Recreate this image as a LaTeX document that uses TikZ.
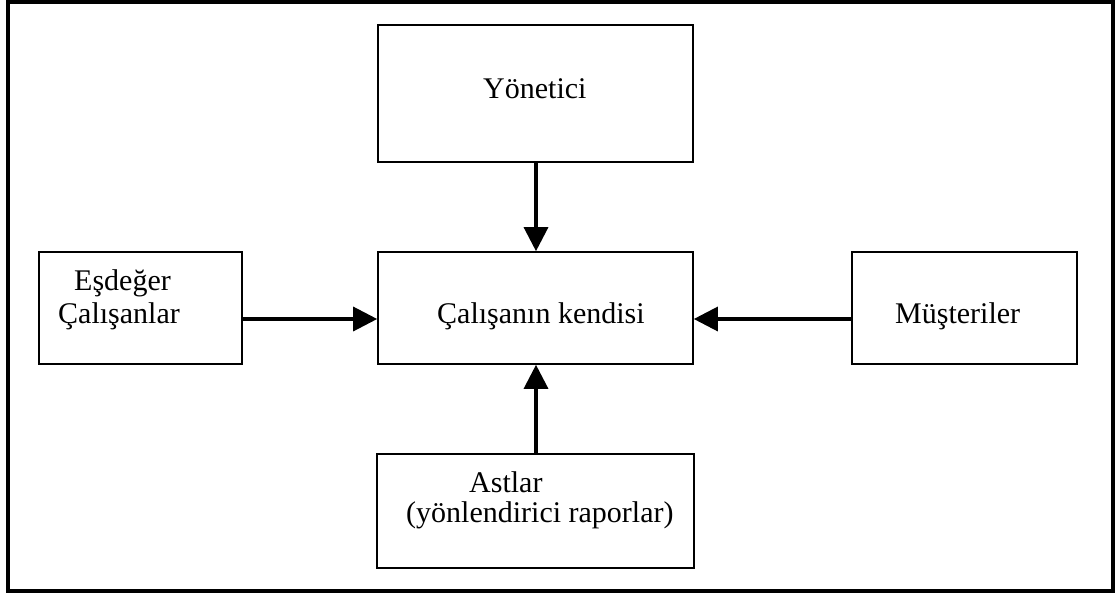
\documentclass[tikz,border=0pt]{standalone}
\usepackage{fontspec}
\setmainfont{Liberation Serif}
\usetikzlibrary{arrows.meta}
\begin{document}
\begin{tikzpicture}[x=1pt,y=-1pt,
  box/.style={draw, line width=1.6pt, inner sep=0pt, anchor=center},
  lbl/.style={inner sep=0pt, anchor=base west, font=\fontsize{30}{34}\selectfont},
  arr/.style={line width=3.2pt, -{Triangle[length=24pt,width=24pt]}}]
\useasboundingbox (0,0) rectangle (1118,594);
\draw[line width=4pt] (8,1.8) rectangle (1113,591);
% boxes
\node[box, minimum width=315pt, minimum height=137pt] (top) at (535.5,93.5) {};
\node[box, minimum width=315pt, minimum height=112pt] (mid) at (535.5,308) {};
\node[box, minimum width=203pt, minimum height=112pt] (left) at (140.5,308) {};
\node[box, minimum width=225pt, minimum height=112pt] (right) at (964.5,308) {};
\node[box, minimum width=317pt, minimum height=114pt] (bot) at (535.5,511) {};
% texts
\node[lbl] (t1) at (483,98.5) {Yönetici};
\node[lbl] (t2) at (437,323) {Çalışanın kendisi};
\node[lbl] (t3) at (74,290) {Eşdeğer};
\node[lbl] (t4) at (58,323) {Çalışanlar};
\node[lbl] (t5) at (895,323) {Müşteriler};
\node[lbl] (t6) at (469,492) {Astlar};
\node[lbl] (t7) at (406,522) {(yönlendirici raporlar)};
% arrows
\coordinate (ay) at (0,319);
\coordinate (ax) at (536,0);
\draw[arr] (top.south -| ax) -- (mid.north -| ax);
\draw[arr] (bot.north -| ax) -- (mid.south -| ax);
\draw[arr] (left.east |- ay) -- (mid.west |- ay);
\draw[arr] (right.west |- ay) -- (mid.east |- ay);
\end{tikzpicture}
\end{document}
